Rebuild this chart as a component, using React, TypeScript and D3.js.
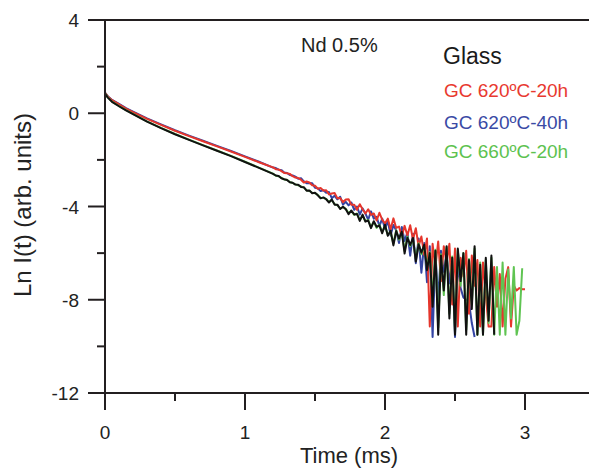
import React from 'react';
import * as d3 from 'd3';

const W = 589;
const H = 468;

// time grid (ms)
const smoothTimes = [0, 0.02, 0.05, 0.1, 0.15, 0.2, 0.3, 0.4, 0.5, 0.6, 0.7, 0.8, 0.9, 1.0, 1.1];
const noisyTimes = d3.range(91).map((i) => +(1.2 + 0.02 * i).toFixed(2));

// Ln I(t) values
const redSmooth = [0.87, 0.72, 0.56, 0.38, 0.2, 0.05, -0.24, -0.5, -0.75, -0.98, -1.2, -1.42, -1.64, -1.87, -2.1];
const redNoisy = [
  -2.32, -2.4, -2.41, -2.48, -2.56, -2.57, -2.6, -2.7, -2.76, -2.78,
  -2.85, -2.97, -2.93, -2.97, -3.09, -3.11, -3.24, -3.21, -3.31, -3.3,
  -3.48, -3.44, -3.42, -3.65, -3.64, -3.81, -3.7, -3.69, -3.93, -3.92,
  -4.14, -3.9, -4.12, -4.3, -4.12, -4.36, -4.3, -4.6, -4.27, -4.56,
  -4.73, -4.52, -4.98, -4.51, -4.92, -4.86, -5.29, -4.83, -5.24, -4.8,
  -5.42, -4.93, -5.71, -5.29, -6.07, -5.37, -9.15, -5.6, -6.6, -5.5,
  -7.2, -5.7, -6.4, -5.6, -8.2, -5.8, -9.15, -6.2, -7.0, -5.9,
  -8.6, -6.1, -7.4, -6.3, -9.15, -6.4, -7.8, -9.15, -9.15, -6.6,
  -8.3, -6.9, -9.15, -7.1, -6.6, -9.15, -7.4, -7.6, -7.5, -7.55,
  -7.55,
];

const blueSmooth = [0.88, 0.73, 0.57, 0.4, 0.22, 0.07, -0.22, -0.48, -0.73, -0.96, -1.18, -1.4, -1.62, -1.85, -2.08];
const blueNoisy = [
  -2.33, -2.35, -2.42, -2.44, -2.54, -2.56, -2.65, -2.67, -2.72, -2.81,
  -2.79, -2.92, -3.0, -2.99, -3.0, -3.2, -3.22, -3.34, -3.3, -3.41,
  -3.38, -3.64, -3.54, -3.69, -3.58, -3.92, -3.8, -3.95, -3.83, -4.14,
  -4.0, -4.35, -4.08, -4.3, -4.56, -4.21, -4.52, -4.44, -4.84, -4.52,
  -4.97, -4.61, -5.24, -4.79, -5.03, -5.57, -4.88, -5.48, -5.12, -6.11,
  -5.17, -6.43, -5.37, -6.84, -5.57, -7.25, -5.7, -9.6, -6.0, -8.0,
  -5.9, -6.8, -6.1, -7.3, -6.2, -9.6, -6.4, -7.5, -7.9, -8.0,
  -8.1, -9.0, -9.6,
];

const greenSmooth = [0.85, 0.68, 0.5, 0.31, 0.13, -0.03, -0.35, -0.63, -0.89, -1.13, -1.37, -1.6, -1.83, -2.08, -2.33];
const greenNoisy = [
  -2.59, -2.68, -2.7, -2.77, -2.84, -2.85, -2.95, -2.99, -3.05, -3.09,
  -3.14, -3.19, -3.3, -3.33, -3.41, -3.43, -3.5, -3.62, -3.63, -3.68,
  -3.8, -3.73, -3.9, -3.95, -4.08, -4.03, -4.1, -4.28, -4.2, -4.36,
  -4.3, -4.58, -4.4, -4.62, -4.58, -4.88, -4.66, -4.92, -4.78, -5.1,
  -4.82, -5.22, -5.08, -5.6, -5.02, -5.42, -5.12, -5.9, -5.3, -5.7,
  -5.4, -6.25, -5.58, -6.05, -5.7, -6.6, -5.95, -8.0, -5.85, -9.2,
  -6.05, -7.8, -5.75, -8.6, -6.15, -9.4, -5.85, -7.4, -6.0, -9.3,
  -6.25, -8.2, -5.8, -9.5, -6.4, -9.5, -6.3, -9.0, -6.2, -9.5,
  -6.6, -9.5, -6.4, -9.5, -6.7, -8.8, -6.6, -9.5, -8.9, -6.65,
];

const glassSmooth = [0.84, 0.67, 0.49, 0.3, 0.12, -0.04, -0.36, -0.64, -0.9, -1.14, -1.38, -1.61, -1.84, -2.09, -2.34];
const glassNoisy = [
  -2.6, -2.67, -2.69, -2.79, -2.83, -2.86, -2.96, -2.98, -3.06, -3.07,
  -3.16, -3.17, -3.32, -3.31, -3.43, -3.41, -3.52, -3.65, -3.61, -3.69,
  -3.83, -3.7, -3.92, -3.92, -4.11, -4.01, -4.12, -4.33, -4.17, -4.34,
  -4.32, -4.62, -4.35, -4.65, -4.6, -4.93, -4.63, -4.87, -4.81, -5.15,
  -4.78, -5.26, -5.04, -5.67, -5.05, -5.38, -5.08, -6.02, -5.34, -5.65,
  -5.35, -6.36, -5.62, -5.98, -5.64, -6.73, -6.0, -8.3, -5.9, -9.5,
  -6.1, -7.6, -5.7, -8.8, -6.2, -9.5, -5.8, -7.2, -6.0, -9.5,
  -6.3, -8.4, -5.7, -9.5, -6.5, -9.5, -6.2, -8.9, -6.1, -9.5,
];

const xTicks = [0, 1, 2, 3];
const xMinor = [0.5, 1.5, 2.5];
const yTicks = [4, 0, -4, -8, -12];
const yMinor = [2, -2, -6, -10];

const seriesNames = ['GC 620ºC-40h', 'GC 620ºC-20h', 'GC 660ºC-20h', 'Glass'];
const seriesColors = ['#3344a4', '#e5362c', '#5fc452', '#111111'];
const seriesValues = [
  [...blueSmooth, ...blueNoisy],
  [...redSmooth, ...redNoisy],
  [...greenSmooth, ...greenNoisy],
  [...glassSmooth, ...glassNoisy],
];

const legendNames = ['Glass', 'GC 620ºC-20h', 'GC 620ºC-40h', 'GC 660ºC-20h'];
const legendColors = ['#1a1a1a', '#e8392f', '#3a4aa5', '#5dc24f'];

export default function App() {
  const times = [...smoothTimes, ...noisyTimes];
  const x = d3.scaleLinear().domain([0, 3.5]).range([105, 595]);
  const y = d3.scaleLinear().domain([-12, 4]).range([393, 20]);
  const line = d3
    .line<[number, number]>()
    .x((d) => x(d[0]))
    .y((d) => y(d[1]));

  const axisColor = '#231f20';
  const font = 'Liberation Sans, Arial, sans-serif';
  const x0 = x(0);
  const yb = y(-12);

  return (
    <svg
      width={W}
      height={H}
      style={{ position: 'absolute', left: 0, top: 0, background: '#fff' }}
      fontFamily={font}
    >
      <rect width={W} height={H} fill="#fff" />
      {seriesValues.map((vals, si) => (
        <path
          key={seriesNames[si]}
          d={line(vals.map((v, i) => [times[i], v] as [number, number])) || ''}
          fill="none"
          stroke={seriesColors[si]}
          strokeWidth={2}
          strokeLinejoin="round"
        />
      ))}
      {/* axes */}
      <line x1={x0} x2={x0} y1={y(4)} y2={yb} stroke={axisColor} strokeWidth={2} />
      <line x1={x0} x2={x(3.5)} y1={yb} y2={yb} stroke={axisColor} strokeWidth={2} />
      <line x1={x0} x2={x(3.5)} y1={y(4)} y2={y(4)} stroke={axisColor} strokeWidth={2} />
      {xTicks.map((t) => (
        <g key={'xt' + t}>
          <line x1={x(t)} x2={x(t)} y1={yb} y2={yb + 17} stroke={axisColor} strokeWidth={2} />
          <text x={x(t)} y={439} textAnchor="middle" fontSize={19} fill="#222">
            {t}
          </text>
        </g>
      ))}
      {xMinor.map((t) => (
        <line key={'xm' + t} x1={x(t)} x2={x(t)} y1={yb} y2={yb + 8} stroke={axisColor} strokeWidth={2} />
      ))}
      {yTicks.map((t) => (
        <g key={'yt' + t}>
          <line x1={x0 - 17} x2={x0} y1={y(t)} y2={y(t)} stroke={axisColor} strokeWidth={2} />
          <text x={79} y={y(t) + 7} textAnchor="end" fontSize={19} fill="#222">
            {t}
          </text>
        </g>
      ))}
      {yMinor.map((t) => (
        <line key={'ym' + t} x1={x0 - 8} x2={x0} y1={y(t)} y2={y(t)} stroke={axisColor} strokeWidth={2} />
      ))}
      <text x={349} y={463} textAnchor="middle" fontSize={22} fill="#222">
        Time (ms)
      </text>
      <text
        transform={`translate(31,205) rotate(-90)`}
        textAnchor="middle"
        fontSize={24}
        fill="#222"
      >
        Ln I(t) (arb. units)
      </text>
      <text x={301} y={52} fontSize={20} fill="#222">
        Nd 0.5%
      </text>
      {legendNames.map((n, i) => (
        <text
          key={n}
          x={i === 0 ? 443 : 444}
          y={[64, 97, 129, 158][i]}
          fontSize={i === 0 ? 23 : 19}
          fill={legendColors[i]}
        >
          {n}
        </text>
      ))}
    </svg>
  );
}
